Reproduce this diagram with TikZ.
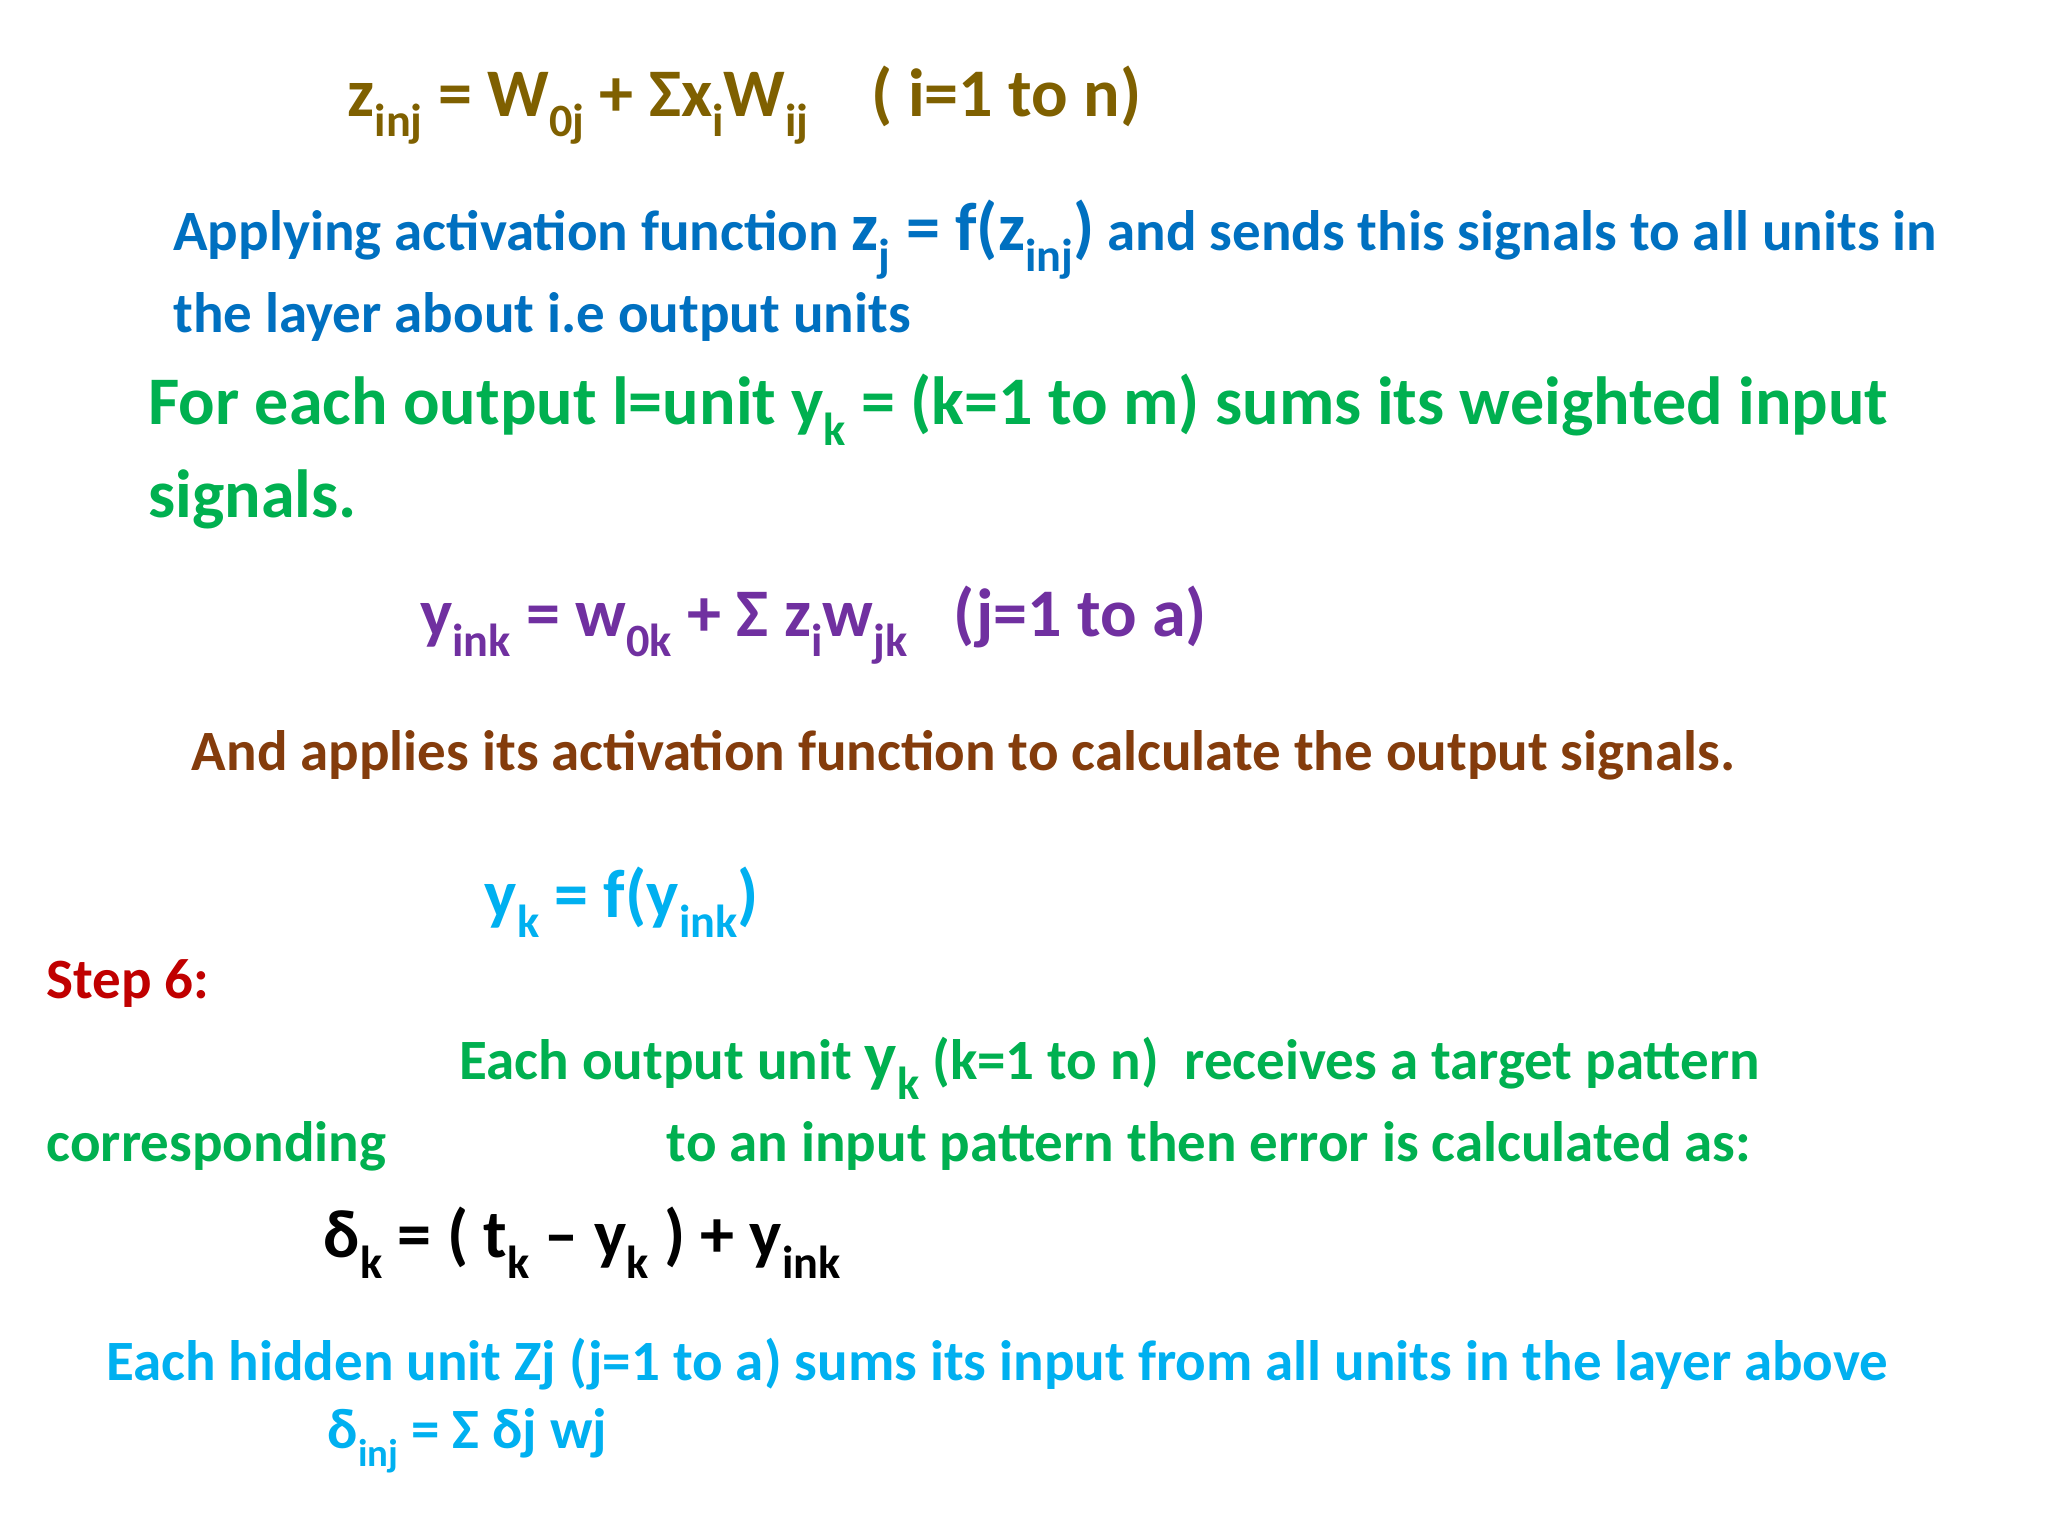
\documentclass[tikz,border=0pt]{standalone}
\usepackage{fontspec}
\setmainfont{Carlito}
\definecolor{cOl}{RGB}{127,96,0}
\definecolor{cBl}{RGB}{0,112,192}
\definecolor{cGr}{RGB}{0,176,80}
\definecolor{cPu}{RGB}{112,48,160}
\definecolor{cBr}{RGB}{132,60,12}
\definecolor{cCy}{RGB}{0,176,240}
\definecolor{cRe}{RGB}{192,0,0}
\newcommand\sbx[1]{\raisebox{-0.3em}{\scalebox{0.68}{#1}}}
\tikzset{t/.style={anchor=base west,inner sep=0pt,font=\bfseries},
big/.style={font=\bfseries\fontsize{25.8}{30}\selectfont},
mid/.style={font=\bfseries\fontsize{21.6}{26}\selectfont}}
\begin{document}
\begin{tikzpicture}[x=0.5pt,y=-0.5pt]
\useasboundingbox (0,0) rectangle (1552,1164);
\node[t,big,text=cOl] (a1) at (263,88) {z\sbx{inj} = W\sbx{0j} + Σx\sbx{i}W\sbx{ij}};
\node[t,big,text=cOl] (a2) at (660,88) {( i=1 to n)};
\node[t,mid,text=cBl] (b1) at (131,190) {Applying activation function {\fontsize{25.8}{30}\selectfont z\sbx{j} = f(z\sbx{inj})} and sends this signals to all units in};
\node[t,mid,text=cBl] (b2) at (131,252) {the layer about i.e output units};
\node[t,big,text=cGr] (c1) at (112,322) {For each output l=unit y\sbx{k} = (k=1 to m) sums its weighted input};
\node[t,big,text=cGr] (c2) at (112,392) {signals.};
\node[t,big,text=cPu] (d1) at (318,482) {y\sbx{ink} = w\sbx{0k} + Σ z\sbx{i}w\sbx{jk}};
\node[t,big,text=cPu] (d2) at (722,482) {(j=1 to a)};
\node[t,mid,text=cBr] (e1) at (145,584) {And applies its activation function to calculate the output signals.};
\node[t,big,text=cCy] (f1) at (367,695) {y\sbx{k} = f(y\sbx{ink})};
\node[t,mid,text=cRe] (g1) at (35,757) {Step 6:};
\node[t,mid,text=cGr] (h1) at (348,818) {Each output unit {\fontsize{25.8}{30}\selectfont y\sbx{k}} (k=1 to n)\ \ receives a target pattern};
\node[t,mid,text=cGr] (h2) at (35,880) {corresponding};
\node[t,mid,text=cGr] (h3) at (505,880) {to an input pattern then error is calculated as:};
\node[t,big,text=black] (i1) at (245,953) {δ\sbx{k} = ( t\sbx{k} – y\sbx{k} ) + y\sbx{ink}};
\node[t,mid,text=cCy] (j1) at (80,1046) {Each hidden unit Zj (j=1 to a) sums its input from all units in the layer above};
\node[t,mid,text=cCy] (j2) at (248,1098) {δ\sbx{inj} = Σ δj wj};
\end{tikzpicture}
\end{document}
